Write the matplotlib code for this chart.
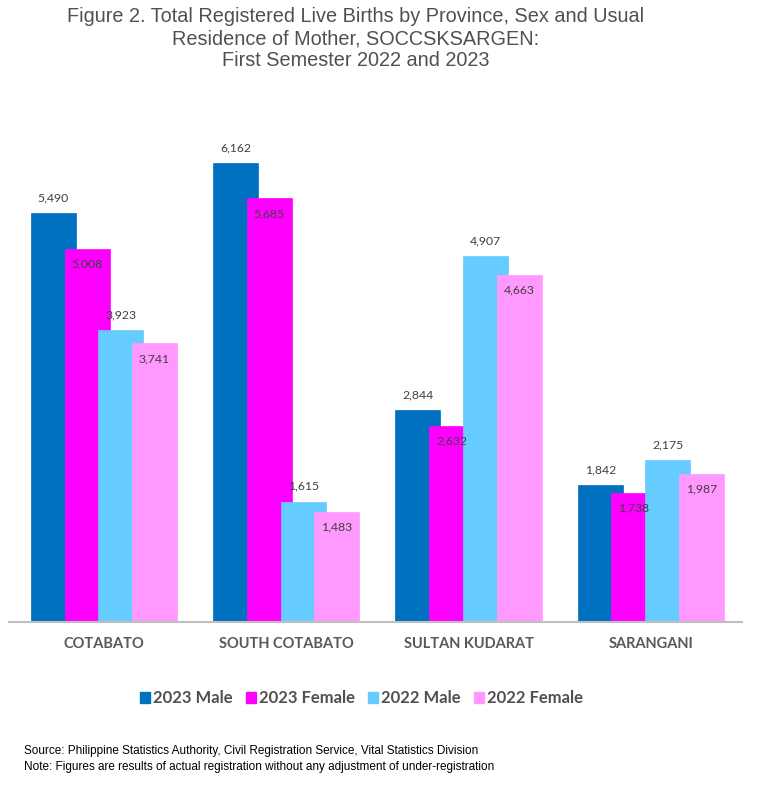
import matplotlib
matplotlib.use("Agg")
import matplotlib.pyplot as plt
from matplotlib.patches import Patch
import numpy as np


provinces = ["COTABATO", "SOUTH COTABATO", "SULTAN KUDARAT", "SARANGANI"]
series_names = ["2023 Male", "2023 Female", "2022 Male", "2022 Female"]
male_2023 = [5490, 6162, 2844, 1842]
female_2023 = [5008, 5685, 2632, 1738]
male_2022 = [3923, 1615, 4907, 2175]
female_2022 = [3741, 1483, 4663, 1987]
colors = ["#0070C0", "#FF00FF", "#66CCFF", "#FF99FF"]


def main():
    W, H = 759, 791
    fig = plt.figure(figsize=(W / 100, H / 100), dpi=100)

    # axes placed in pixel terms of the reference
    ax = fig.add_axes([9 / W, (H - 622) / H, 733 / W, 521.5 / H])

    x = np.arange(len(provinces))
    width = 0.247
    step = 0.185
    series = [male_2023, female_2023, male_2022, female_2022]

    for i, (vals, col) in enumerate(zip(series, colors)):
        pos = x + (i - 1.5) * step
        ax.bar(pos, vals, width=width, color=col, edgecolor=col, linewidth=0.5, zorder=2 + i)

    # labels on top of everything
    for i, vals in enumerate(series):
        pos = x + (i - 1.5) * step
        # male bars: label above the bar; female bars: label just inside
        dy = 11 if i % 2 == 0 else -11
        for p, v in zip(pos, vals):
            ax.annotate(f"{v:,}", (p, v), xytext=(0, dy), textcoords="offset points",
                        ha="center", va="center", fontsize=8.8, color="#404040",
                        family="Lato", zorder=10)

    ax.set_xlim(-0.521, 3.5)
    ax.set_ylim(0, 7000)
    ax.set_xticks(x)
    ax.set_xticklabels(provinces, fontsize=10.5, fontweight="bold", color="#595959", family="Lato")
    ax.tick_params(axis="x", length=0, pad=11)
    ax.set_yticks([])
    for s in ["top", "right", "left"]:
        ax.spines[s].set_visible(False)
    ax.spines["bottom"].set_color("#BFBFBF")
    ax.spines["bottom"].set_linewidth(1.5)
    ax.spines["bottom"].set_zorder(20)

    handles = [Patch(facecolor=c, edgecolor=c) for c in colors]
    leg = fig.legend(handles, series_names, loc="center", bbox_to_anchor=(361.5 / W, (H - 698) / H),
                     ncol=4, frameon=False, handlelength=0.62, handleheight=0.62,
                     handletextpad=0.2, columnspacing=0.75,
                     prop={"family": "Lato", "weight": "bold", "size": 12})
    for t in leg.get_texts():
        t.set_color("#505050")

    fig.text(356 / W, (H - 39) / H,
             "Figure 2. Total Registered Live Births by Province, Sex and Usual\n"
             "Residence of Mother, SOCCSKSARGEN:\nFirst Semester 2022 and 2023",
             ha="center", va="center", fontsize=14.3, color="#505050",
             family="Liberation Sans", linespacing=1.2)

    fig.text(24 / W, (H - 751) / H,
             "Source: Philippine Statistics Authority, Civil Registration Service, Vital Statistics Division",
             ha="left", va="center", fontsize=8.5, color="black", family="Liberation Sans")
    fig.text(24 / W, (H - 767) / H,
             "Note: Figures are results of actual registration without any adjustment of under-registration",
             ha="left", va="center", fontsize=8.5, color="black", family="Liberation Sans")

    fig.savefig("out.png", dpi=100)


if __name__ == "__main__":
    main()
